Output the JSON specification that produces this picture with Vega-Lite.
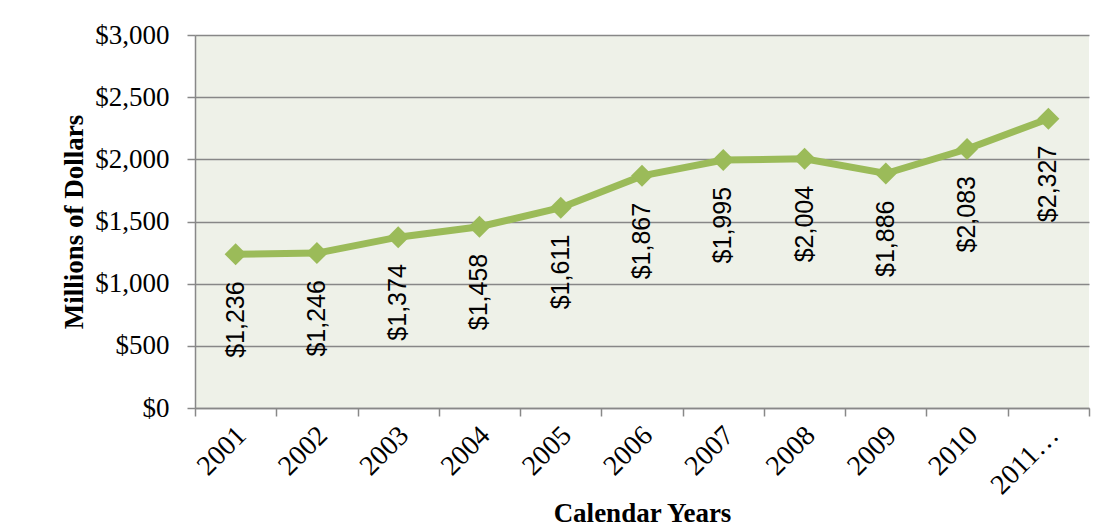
{
  "$schema": "https://vega.github.io/schema/vega-lite/v6.json",
  "width": 894,
  "height": 373,
  "padding": {"left": 60, "top": 21, "right": 18, "bottom": 0},
  "background": "white",
  "data": {
    "values": [
      {"year": "2001", "value": 1236, "label": "$1,236"},
      {"year": "2002", "value": 1246, "label": "$1,246"},
      {"year": "2003", "value": 1374, "label": "$1,374"},
      {"year": "2004", "value": 1458, "label": "$1,458"},
      {"year": "2005", "value": 1611, "label": "$1,611"},
      {"year": "2006", "value": 1867, "label": "$1,867"},
      {"year": "2007", "value": 1995, "label": "$1,995"},
      {"year": "2008", "value": 2004, "label": "$2,004"},
      {"year": "2009", "value": 1886, "label": "$1,886"},
      {"year": "2010", "value": 2083, "label": "$2,083"},
      {"year": "2011…", "value": 2327, "label": "$2,327"}
    ]
  },
  "encoding": {
    "x": {
      "field": "year",
      "type": "nominal",
      "sort": null,
      "scale": {"paddingInner": 0, "paddingOuter": 0},
      "axis": {
        "title": "Calendar Years",
        "labelAngle": -45,
        "labelAlign": "right",
        "labelBaseline": "top",
        "labelFont": "Liberation Serif",
        "labelFontSize": 28,
        "labelColor": "black",
        "labelPadding": 5,
        "labelOffset": -4,
        "tickBand": "extent",
        "tickSize": 8,
        "tickColor": "#888888",
        "tickWidth": 1.5,
        "domainColor": "#888888",
        "domainWidth": 1.5,
        "titleFont": "Liberation Serif",
        "titleFontSize": 27,
        "titleFontWeight": "bold",
        "titleColor": "black",
        "titlePadding": 1
      }
    },
    "y": {
      "field": "value",
      "type": "quantitative",
      "scale": {"domain": [0, 3000]},
      "axis": {
        "title": "Millions of Dollars",
        "values": [0, 500, 1000, 1500, 2000, 2500, 3000],
        "format": "$,.0f",
        "labelFont": "Liberation Serif",
        "labelFontSize": 27,
        "labelColor": "black",
        "labelPadding": 18,
        "tickSize": 8,
        "tickColor": "#888888",
        "tickWidth": 1.5,
        "domainColor": "#888888",
        "domainWidth": 1.5,
        "grid": true,
        "gridColor": "#878787",
        "gridWidth": 1.5,
        "titleFont": "Liberation Serif",
        "titleFontSize": 27,
        "titleFontWeight": "bold",
        "titleColor": "black",
        "titlePadding": 6
      }
    }
  },
  "layer": [
    {
      "mark": {"type": "line", "color": "#9BBB59", "strokeWidth": 7},
      "encoding": {}
    },
    {
      "mark": {"type": "point", "shape": "diamond", "filled": true, "opacity": 1, "color": "#9BBB59", "size": 484},
      "encoding": {}
    },
    {
      "mark": {"type": "text", "angle": 270, "align": "right", "baseline": "middle", "dx": -27, "font": "Liberation Sans", "fontSize": 25, "color": "black"},
      "encoding": {"text": {"field": "label"}}
    }
  ],
  "config": {
    "view": {"stroke": null, "fill": "#EEF1E8"}
  }
}
